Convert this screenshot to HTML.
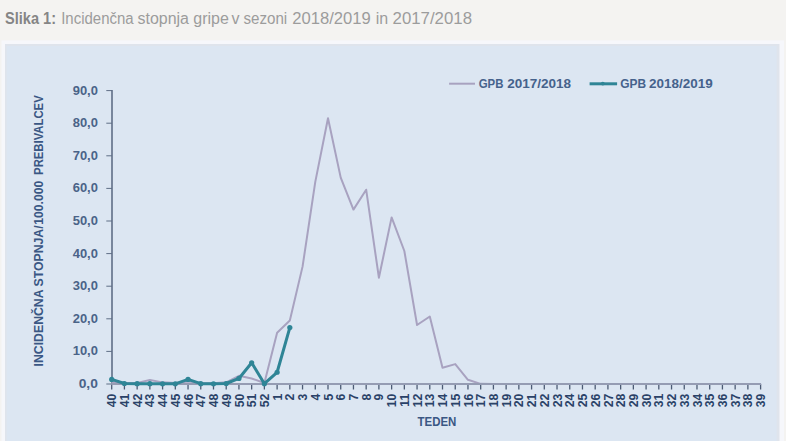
<!DOCTYPE html>
<html><head><meta charset="utf-8"><style>
html,body{margin:0;padding:0;width:786px;height:441px;overflow:hidden;background:#f4f3f1;}
svg{position:absolute;left:0;top:0;}
.tb{font-family:"Liberation Sans",sans-serif;font-weight:bold;font-size:16.8px;fill:#858585;}
.tr{font-family:"Liberation Sans",sans-serif;font-size:16px;fill:#9c9c9c;}
.xtitle{position:absolute;left:5px;top:6px;font-family:"Liberation Sans",sans-serif;font-size:16px;color:#9a9a9a;white-space:nowrap;}
.title b{color:#8a8a8a;}
.ax{stroke:#5f6e86;stroke-width:1;}
.ay{stroke:#5f6e86;stroke-width:1.6;}
.axb{stroke:#959cb3;stroke-width:2;}
.tk{stroke:#4c5b74;stroke-width:1.3;}
.yl{font-family:"Liberation Sans",sans-serif;font-weight:bold;font-size:13.3px;fill:#4a6388;}
.xl{font-family:"Liberation Sans",sans-serif;font-weight:bold;font-size:12.2px;fill:#2a4268;}
.lg{font-family:"Liberation Sans",sans-serif;font-weight:bold;font-size:13.2px;fill:#45628c;}
.tt{font-family:"Liberation Sans",sans-serif;font-weight:bold;font-size:12px;fill:#3a5784;}
.pu{fill:none;stroke:#a8a2c0;stroke-width:2;stroke-linejoin:round;}
.te{fill:none;stroke:#2f8596;stroke-width:3;stroke-linejoin:round;}
</style></head><body>
<svg width="786" height="441" viewBox="0 0 786 441">
<rect x="1.5" y="40.4" width="782.5" height="401" fill="#f6f7fb"/>
<rect x="5" y="44" width="774.5" height="397" fill="#dfe4ec"/>
<rect x="6.6" y="46" width="770" height="395" fill="#dce6f2"/>
<text x="5" y="23.6" class="tb" textLength="51" lengthAdjust="spacingAndGlyphs">Slika 1:</text>
<text x="61.2" y="23.6" class="tr" textLength="72.4" lengthAdjust="spacingAndGlyphs">Incidenčna</text><text x="137.5" y="23.6" class="tr" textLength="51.4" lengthAdjust="spacingAndGlyphs">stopnja</text><text x="193.3" y="23.6" class="tr" textLength="35.5" lengthAdjust="spacingAndGlyphs">gripe</text><text x="231.6" y="23.6" class="tr">v</text><text x="243.5" y="23.6" class="tr" textLength="43.7" lengthAdjust="spacingAndGlyphs">sezoni</text><text x="292.2" y="23.6" class="tr" textLength="78.5" lengthAdjust="spacingAndGlyphs">2018/2019</text><text x="375.8" y="23.6" class="tr">in</text><text x="392.6" y="23.6" class="tr" textLength="79.4" lengthAdjust="spacingAndGlyphs">2017/2018</text>
<line x1="106.3" y1="384.00" x2="112" y2="384.00" class="ax"/>
<text x="97.9" y="388.00" class="yl" text-anchor="end" textLength="19.2" lengthAdjust="spacingAndGlyphs">0,0</text>
<line x1="106.3" y1="351.40" x2="112" y2="351.40" class="ax"/>
<text x="97.9" y="355.40" class="yl" text-anchor="end" textLength="25.2" lengthAdjust="spacingAndGlyphs">10,0</text>
<line x1="106.3" y1="318.80" x2="112" y2="318.80" class="ax"/>
<text x="97.9" y="322.80" class="yl" text-anchor="end" textLength="25.2" lengthAdjust="spacingAndGlyphs">20,0</text>
<line x1="106.3" y1="286.20" x2="112" y2="286.20" class="ax"/>
<text x="97.9" y="290.20" class="yl" text-anchor="end" textLength="25.2" lengthAdjust="spacingAndGlyphs">30,0</text>
<line x1="106.3" y1="253.60" x2="112" y2="253.60" class="ax"/>
<text x="97.9" y="257.60" class="yl" text-anchor="end" textLength="25.2" lengthAdjust="spacingAndGlyphs">40,0</text>
<line x1="106.3" y1="221.00" x2="112" y2="221.00" class="ax"/>
<text x="97.9" y="225.00" class="yl" text-anchor="end" textLength="25.2" lengthAdjust="spacingAndGlyphs">50,0</text>
<line x1="106.3" y1="188.40" x2="112" y2="188.40" class="ax"/>
<text x="97.9" y="192.40" class="yl" text-anchor="end" textLength="25.2" lengthAdjust="spacingAndGlyphs">60,0</text>
<line x1="106.3" y1="155.80" x2="112" y2="155.80" class="ax"/>
<text x="97.9" y="159.80" class="yl" text-anchor="end" textLength="25.2" lengthAdjust="spacingAndGlyphs">70,0</text>
<line x1="106.3" y1="123.20" x2="112" y2="123.20" class="ax"/>
<text x="97.9" y="127.20" class="yl" text-anchor="end" textLength="25.2" lengthAdjust="spacingAndGlyphs">80,0</text>
<line x1="106.3" y1="90.60" x2="112" y2="90.60" class="ax"/>
<text x="97.9" y="94.60" class="yl" text-anchor="end" textLength="25.2" lengthAdjust="spacingAndGlyphs">90,0</text>
<line x1="112" y1="90.1" x2="112" y2="384.5" class="ay"/>
<line x1="111.70" y1="384.0" x2="111.70" y2="389.5" class="tk"/>
<text transform="translate(116.30,393.8) rotate(-90)" class="xl" text-anchor="end">40</text>
<line x1="124.42" y1="384.0" x2="124.42" y2="389.5" class="tk"/>
<text transform="translate(129.02,393.8) rotate(-90)" class="xl" text-anchor="end">41</text>
<line x1="137.15" y1="384.0" x2="137.15" y2="389.5" class="tk"/>
<text transform="translate(141.75,393.8) rotate(-90)" class="xl" text-anchor="end">42</text>
<line x1="149.87" y1="384.0" x2="149.87" y2="389.5" class="tk"/>
<text transform="translate(154.47,393.8) rotate(-90)" class="xl" text-anchor="end">43</text>
<line x1="162.59" y1="384.0" x2="162.59" y2="389.5" class="tk"/>
<text transform="translate(167.19,393.8) rotate(-90)" class="xl" text-anchor="end">44</text>
<line x1="175.32" y1="384.0" x2="175.32" y2="389.5" class="tk"/>
<text transform="translate(179.92,393.8) rotate(-90)" class="xl" text-anchor="end">45</text>
<line x1="188.04" y1="384.0" x2="188.04" y2="389.5" class="tk"/>
<text transform="translate(192.64,393.8) rotate(-90)" class="xl" text-anchor="end">46</text>
<line x1="200.76" y1="384.0" x2="200.76" y2="389.5" class="tk"/>
<text transform="translate(205.36,393.8) rotate(-90)" class="xl" text-anchor="end">47</text>
<line x1="213.49" y1="384.0" x2="213.49" y2="389.5" class="tk"/>
<text transform="translate(218.09,393.8) rotate(-90)" class="xl" text-anchor="end">48</text>
<line x1="226.21" y1="384.0" x2="226.21" y2="389.5" class="tk"/>
<text transform="translate(230.81,393.8) rotate(-90)" class="xl" text-anchor="end">49</text>
<line x1="238.94" y1="384.0" x2="238.94" y2="389.5" class="tk"/>
<text transform="translate(243.54,393.8) rotate(-90)" class="xl" text-anchor="end">50</text>
<line x1="251.66" y1="384.0" x2="251.66" y2="389.5" class="tk"/>
<text transform="translate(256.26,393.8) rotate(-90)" class="xl" text-anchor="end">51</text>
<line x1="264.38" y1="384.0" x2="264.38" y2="389.5" class="tk"/>
<text transform="translate(268.98,393.8) rotate(-90)" class="xl" text-anchor="end">52</text>
<line x1="277.11" y1="384.0" x2="277.11" y2="389.5" class="tk"/>
<text transform="translate(281.71,393.8) rotate(-90)" class="xl" text-anchor="end">1</text>
<line x1="289.83" y1="384.0" x2="289.83" y2="389.5" class="tk"/>
<text transform="translate(294.43,393.8) rotate(-90)" class="xl" text-anchor="end">2</text>
<line x1="302.55" y1="384.0" x2="302.55" y2="389.5" class="tk"/>
<text transform="translate(307.15,393.8) rotate(-90)" class="xl" text-anchor="end">3</text>
<line x1="315.28" y1="384.0" x2="315.28" y2="389.5" class="tk"/>
<text transform="translate(319.88,393.8) rotate(-90)" class="xl" text-anchor="end">4</text>
<line x1="328.00" y1="384.0" x2="328.00" y2="389.5" class="tk"/>
<text transform="translate(332.60,393.8) rotate(-90)" class="xl" text-anchor="end">5</text>
<line x1="340.72" y1="384.0" x2="340.72" y2="389.5" class="tk"/>
<text transform="translate(345.32,393.8) rotate(-90)" class="xl" text-anchor="end">6</text>
<line x1="353.45" y1="384.0" x2="353.45" y2="389.5" class="tk"/>
<text transform="translate(358.05,393.8) rotate(-90)" class="xl" text-anchor="end">7</text>
<line x1="366.17" y1="384.0" x2="366.17" y2="389.5" class="tk"/>
<text transform="translate(370.77,393.8) rotate(-90)" class="xl" text-anchor="end">8</text>
<line x1="378.89" y1="384.0" x2="378.89" y2="389.5" class="tk"/>
<text transform="translate(383.49,393.8) rotate(-90)" class="xl" text-anchor="end">9</text>
<line x1="391.62" y1="384.0" x2="391.62" y2="389.5" class="tk"/>
<text transform="translate(396.22,393.8) rotate(-90)" class="xl" text-anchor="end">10</text>
<line x1="404.34" y1="384.0" x2="404.34" y2="389.5" class="tk"/>
<text transform="translate(408.94,393.8) rotate(-90)" class="xl" text-anchor="end">11</text>
<line x1="417.06" y1="384.0" x2="417.06" y2="389.5" class="tk"/>
<text transform="translate(421.66,393.8) rotate(-90)" class="xl" text-anchor="end">12</text>
<line x1="429.79" y1="384.0" x2="429.79" y2="389.5" class="tk"/>
<text transform="translate(434.39,393.8) rotate(-90)" class="xl" text-anchor="end">13</text>
<line x1="442.51" y1="384.0" x2="442.51" y2="389.5" class="tk"/>
<text transform="translate(447.11,393.8) rotate(-90)" class="xl" text-anchor="end">14</text>
<line x1="455.24" y1="384.0" x2="455.24" y2="389.5" class="tk"/>
<text transform="translate(459.84,393.8) rotate(-90)" class="xl" text-anchor="end">15</text>
<line x1="467.96" y1="384.0" x2="467.96" y2="389.5" class="tk"/>
<text transform="translate(472.56,393.8) rotate(-90)" class="xl" text-anchor="end">16</text>
<line x1="480.68" y1="384.0" x2="480.68" y2="389.5" class="tk"/>
<text transform="translate(485.28,393.8) rotate(-90)" class="xl" text-anchor="end">17</text>
<line x1="493.41" y1="384.0" x2="493.41" y2="389.5" class="tk"/>
<text transform="translate(498.01,393.8) rotate(-90)" class="xl" text-anchor="end">18</text>
<line x1="506.13" y1="384.0" x2="506.13" y2="389.5" class="tk"/>
<text transform="translate(510.73,393.8) rotate(-90)" class="xl" text-anchor="end">19</text>
<line x1="518.85" y1="384.0" x2="518.85" y2="389.5" class="tk"/>
<text transform="translate(523.45,393.8) rotate(-90)" class="xl" text-anchor="end">20</text>
<line x1="531.58" y1="384.0" x2="531.58" y2="389.5" class="tk"/>
<text transform="translate(536.18,393.8) rotate(-90)" class="xl" text-anchor="end">21</text>
<line x1="544.30" y1="384.0" x2="544.30" y2="389.5" class="tk"/>
<text transform="translate(548.90,393.8) rotate(-90)" class="xl" text-anchor="end">22</text>
<line x1="557.02" y1="384.0" x2="557.02" y2="389.5" class="tk"/>
<text transform="translate(561.62,393.8) rotate(-90)" class="xl" text-anchor="end">23</text>
<line x1="569.75" y1="384.0" x2="569.75" y2="389.5" class="tk"/>
<text transform="translate(574.35,393.8) rotate(-90)" class="xl" text-anchor="end">24</text>
<line x1="582.47" y1="384.0" x2="582.47" y2="389.5" class="tk"/>
<text transform="translate(587.07,393.8) rotate(-90)" class="xl" text-anchor="end">25</text>
<line x1="595.19" y1="384.0" x2="595.19" y2="389.5" class="tk"/>
<text transform="translate(599.79,393.8) rotate(-90)" class="xl" text-anchor="end">26</text>
<line x1="607.92" y1="384.0" x2="607.92" y2="389.5" class="tk"/>
<text transform="translate(612.52,393.8) rotate(-90)" class="xl" text-anchor="end">27</text>
<line x1="620.64" y1="384.0" x2="620.64" y2="389.5" class="tk"/>
<text transform="translate(625.24,393.8) rotate(-90)" class="xl" text-anchor="end">28</text>
<line x1="633.36" y1="384.0" x2="633.36" y2="389.5" class="tk"/>
<text transform="translate(637.96,393.8) rotate(-90)" class="xl" text-anchor="end">29</text>
<line x1="646.09" y1="384.0" x2="646.09" y2="389.5" class="tk"/>
<text transform="translate(650.69,393.8) rotate(-90)" class="xl" text-anchor="end">30</text>
<line x1="658.81" y1="384.0" x2="658.81" y2="389.5" class="tk"/>
<text transform="translate(663.41,393.8) rotate(-90)" class="xl" text-anchor="end">31</text>
<line x1="671.54" y1="384.0" x2="671.54" y2="389.5" class="tk"/>
<text transform="translate(676.14,393.8) rotate(-90)" class="xl" text-anchor="end">32</text>
<line x1="684.26" y1="384.0" x2="684.26" y2="389.5" class="tk"/>
<text transform="translate(688.86,393.8) rotate(-90)" class="xl" text-anchor="end">33</text>
<line x1="696.98" y1="384.0" x2="696.98" y2="389.5" class="tk"/>
<text transform="translate(701.58,393.8) rotate(-90)" class="xl" text-anchor="end">34</text>
<line x1="709.71" y1="384.0" x2="709.71" y2="389.5" class="tk"/>
<text transform="translate(714.31,393.8) rotate(-90)" class="xl" text-anchor="end">35</text>
<line x1="722.43" y1="384.0" x2="722.43" y2="389.5" class="tk"/>
<text transform="translate(727.03,393.8) rotate(-90)" class="xl" text-anchor="end">36</text>
<line x1="735.15" y1="384.0" x2="735.15" y2="389.5" class="tk"/>
<text transform="translate(739.75,393.8) rotate(-90)" class="xl" text-anchor="end">37</text>
<line x1="747.88" y1="384.0" x2="747.88" y2="389.5" class="tk"/>
<text transform="translate(752.48,393.8) rotate(-90)" class="xl" text-anchor="end">38</text>
<line x1="760.60" y1="384.0" x2="760.60" y2="389.5" class="tk"/>
<text transform="translate(765.20,393.8) rotate(-90)" class="xl" text-anchor="end">39</text>
<polyline points="111.70,382.37 124.42,383.02 137.15,383.02 149.87,380.09 162.59,382.37 175.32,383.02 188.04,381.39 200.76,383.02 213.49,383.35 226.21,382.37 238.94,375.85 251.66,378.46 264.38,383.02 277.11,332.82 289.83,320.43 302.55,266.64 315.28,181.88 328.00,118.31 340.72,177.64 353.45,209.59 366.17,189.70 378.89,277.72 391.62,217.41 404.34,250.99 417.06,324.99 429.79,316.52 442.51,367.70 455.24,364.11 467.96,379.76 480.68,383.84 493.41,384.00 506.13,384.00 518.85,384.00 531.58,384.00 544.30,384.00 557.02,384.00 569.75,384.00 582.47,384.00 595.19,384.00 607.92,384.00 620.64,384.00 633.36,384.00 646.09,384.00 658.81,384.00 671.54,384.00 684.26,384.00 696.98,384.00 709.71,384.00 722.43,384.00 735.15,384.00 747.88,384.00 760.60,384.00" class="pu"/>
<line x1="111.2" y1="384.0" x2="761.1" y2="384.0" class="axb"/>
<polyline points="111.70,379.44 124.42,383.51 137.15,383.67 149.87,383.67 162.59,383.84 175.32,383.84 188.04,379.44 200.76,383.67 213.49,383.84 226.21,383.51 238.94,378.46 251.66,362.81 264.38,383.67 277.11,372.26 289.83,327.60" class="te"/>
<circle cx="111.70" cy="379.44" r="2.6" fill="#2f8596"/>
<circle cx="124.42" cy="383.51" r="2.6" fill="#2f8596"/>
<circle cx="137.15" cy="383.67" r="2.6" fill="#2f8596"/>
<circle cx="149.87" cy="383.67" r="2.6" fill="#2f8596"/>
<circle cx="162.59" cy="383.84" r="2.6" fill="#2f8596"/>
<circle cx="175.32" cy="383.84" r="2.6" fill="#2f8596"/>
<circle cx="188.04" cy="379.44" r="2.6" fill="#2f8596"/>
<circle cx="200.76" cy="383.67" r="2.6" fill="#2f8596"/>
<circle cx="213.49" cy="383.84" r="2.6" fill="#2f8596"/>
<circle cx="226.21" cy="383.51" r="2.6" fill="#2f8596"/>
<circle cx="238.94" cy="378.46" r="2.6" fill="#2f8596"/>
<circle cx="251.66" cy="362.81" r="2.6" fill="#2f8596"/>
<circle cx="264.38" cy="383.67" r="2.6" fill="#2f8596"/>
<circle cx="277.11" cy="372.26" r="2.6" fill="#2f8596"/>
<circle cx="289.83" cy="327.60" r="2.6" fill="#2f8596"/>
<line x1="449.1" y1="83.7" x2="475" y2="83.7" class="pu"/>
<text x="478.7" y="87.8" class="lg" textLength="24.7" lengthAdjust="spacingAndGlyphs">GPB</text>
<text x="507.2" y="87.8" class="lg" textLength="63.9" lengthAdjust="spacingAndGlyphs">2017/2018</text>
<line x1="589.6" y1="83.8" x2="617.1" y2="83.8" class="te"/>
<circle cx="602.8" cy="83.6" r="1.9" fill="#2f8596"/>
<text x="620.2" y="87.8" class="lg" textLength="25.8" lengthAdjust="spacingAndGlyphs">GPB</text>
<text x="649.1" y="87.8" class="lg" textLength="63.6" lengthAdjust="spacingAndGlyphs">2018/2019</text>
<text x="417.6" y="426" class="tt" textLength="38.8" lengthAdjust="spacingAndGlyphs">TEDEN</text>
<text transform="translate(43.3,366.4) rotate(-90)" class="tt" textLength="141" lengthAdjust="spacingAndGlyphs">INCIDENČNA STOPNJA/</text>
<text transform="translate(43.3,224.8) rotate(-90)" class="tt" textLength="44" lengthAdjust="spacingAndGlyphs">100.000</text>
<text transform="translate(43.3,174.9) rotate(-90)" class="tt" textLength="79.6" lengthAdjust="spacingAndGlyphs">PREBIVALCEV</text>
</svg>
</body></html>
